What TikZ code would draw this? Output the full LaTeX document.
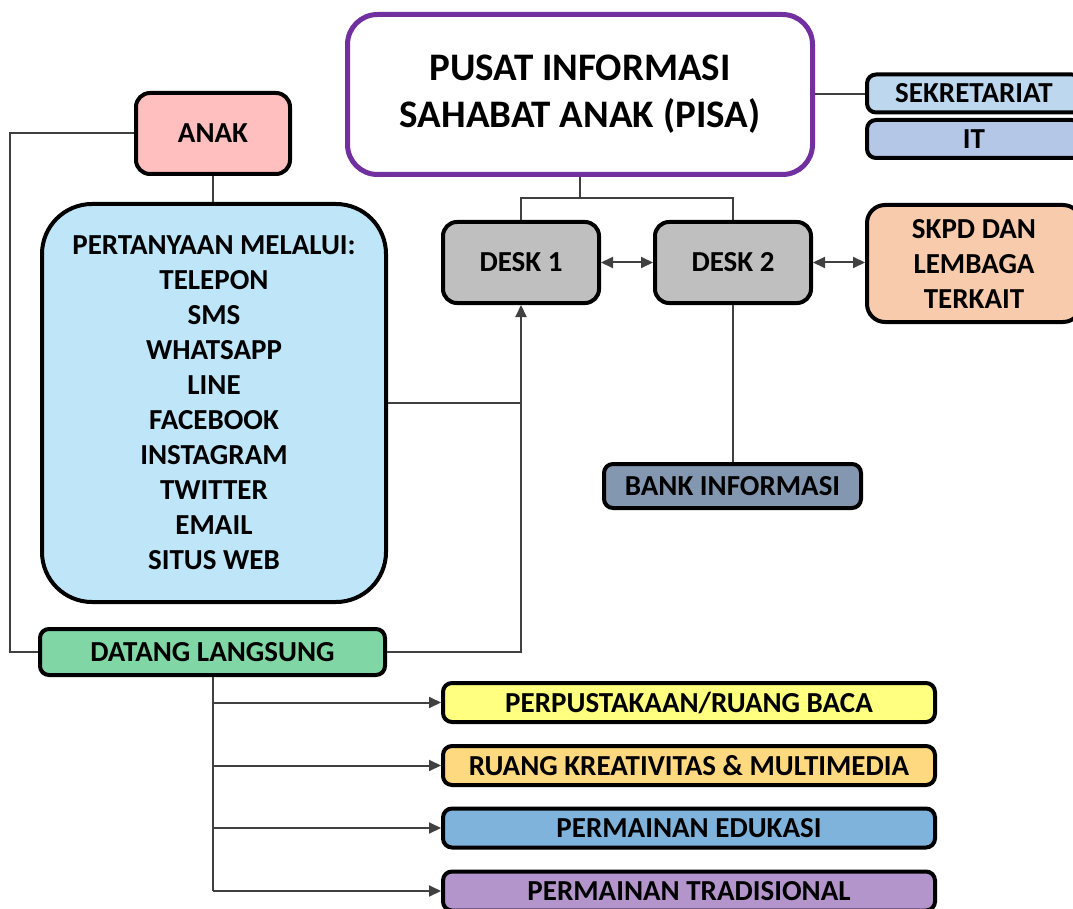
\documentclass[tikz,border=0pt]{standalone}
\usepackage{fontspec}
\setmainfont{Carlito}
\usetikzlibrary{arrows.meta}
\definecolor{linec}{HTML}{404040}
\definecolor{pisac}{HTML}{7030A0}
\definecolor{sekc}{HTML}{BDD7EE}
\definecolor{itc}{HTML}{B4C7E7}
\definecolor{anakc}{HTML}{FFBFBF}
\definecolor{pertc}{HTML}{BEE5F8}
\definecolor{deskc}{HTML}{BFBFBF}
\definecolor{skpdc}{HTML}{F8CBAD}
\definecolor{bankc}{HTML}{8497B0}
\definecolor{datangc}{HTML}{80D6A4}
\definecolor{yelc}{HTML}{FFFF80}
\definecolor{orac}{HTML}{FFD980}
\definecolor{bluc}{HTML}{7FB3DC}
\definecolor{purc}{HTML}{B395CC}
\begin{document}
\begin{tikzpicture}[x=1pt,y=-1pt,
  box/.style={draw=black,line width=4pt,rounded corners=9pt,inner sep=0pt,align=center,
    font=\fontsize{29}{35}\selectfont\bfseries},
  conn/.style={draw=linec,line width=2pt},
  arr/.style={conn,-{Triangle[length=12pt,width=11pt]}},
  dbl/.style={conn,{Triangle[length=12pt,width=11pt]}-{Triangle[length=12pt,width=11pt]}}]
\clip (0,0) rectangle (1073,909);
\fill[white] (0,0) rectangle (1073,909);
% nodes
\node[box,draw=pisac,line width=5pt,rounded corners=30pt,fill=white,minimum width=465pt,minimum height=160pt,
  font=\fontsize{39}{47}\selectfont\bfseries] (pisa) at (580,94.5) {PUSAT INFORMASI\\SAHABAT ANAK (PISA)};
\node[box,fill=sekc,minimum width=214pt,minimum height=38pt] (sek) at (974,93.5) {SEKRETARIAT};
\node[box,fill=itc,minimum width=214pt,minimum height=38pt] (it) at (974,139) {IT};
\node[box,fill=anakc,rounded corners=14pt,minimum width=154pt,minimum height=81pt] (anak) at (213,133.5) {ANAK};
\node[box,fill=deskc,rounded corners=14pt,minimum width=156pt,minimum height=81pt] (desk1) at (521,262.5) {DESK 1};
\node[box,fill=deskc,rounded corners=14pt,minimum width=156pt,minimum height=81pt] (desk2) at (733,262.5) {DESK 2};
\node[box,fill=skpdc,rounded corners=18pt,minimum width=214pt,minimum height=117pt] (skpd) at (974,263.5) {SKPD DAN\\LEMBAGA\\TERKAIT};
\node[box,fill=pertc,rounded corners=50pt,minimum width=344pt,minimum height=398pt] (pert) at (214,403)
  {PERTANYAAN MELALUI:\\TELEPON\\SMS\\WHATSAPP\\LINE\\FACEBOOK\\INSTAGRAM\\TWITTER\\EMAIL\\SITUS WEB};
\node[box,fill=bankc,minimum width=257pt,minimum height=44pt] (bank) at (732.5,486) {BANK INFORMASI};
\node[box,fill=datangc,minimum width=345pt,minimum height=46pt] (datang) at (212.5,652) {DATANG LANGSUNG};
\node[box,fill=yelc,minimum width=492pt,minimum height=39pt] (b1) at (689,702.5) {PERPUSTAKAAN/RUANG BACA};
\node[box,fill=orac,minimum width=492pt,minimum height=39pt] (b2) at (689,765.5) {RUANG KREATIVITAS \& MULTIMEDIA};
\node[box,fill=bluc,minimum width=492pt,minimum height=39pt] (b3) at (689,828) {PERMAINAN EDUKASI};
\node[box,fill=purc,minimum width=492pt,minimum height=39pt] (b4) at (689,891) {PERMAINAN TRADISIONAL};
% connectors
\coordinate (j) at (580,198);
\coordinate (lx) at (10,133.5);
\draw[conn] (pisa.south) -- (j);
\draw[conn] (j) -| (desk1.north);
\draw[conn] (j) -| (desk2.north);
\draw[conn] (pisa.east) -- (pisa.east -| sek.west);
\draw[dbl] (desk1.east) -- (desk2.west);
\draw[dbl] (desk2.east) -- (desk2.east -| skpd.west);
\draw[conn] (anak.south) -- (anak.south |- pert.north);
\draw[conn] (anak.west) -- (anak.west -| lx) |- (datang.west);
\draw[conn] (pert.east) -- (pert.east -| desk1.south);
\draw[arr] (datang.east) -| (desk1.south);
\draw[conn] (desk2.south) -- (desk2.south |- bank.north);
\draw[conn] (datang.south) -- (datang.south |- b4.west);
\foreach \b in {b1,b2,b3,b4} \draw[arr] (datang.south |- \b.west) -- (\b.west);
\end{tikzpicture}
\end{document}
